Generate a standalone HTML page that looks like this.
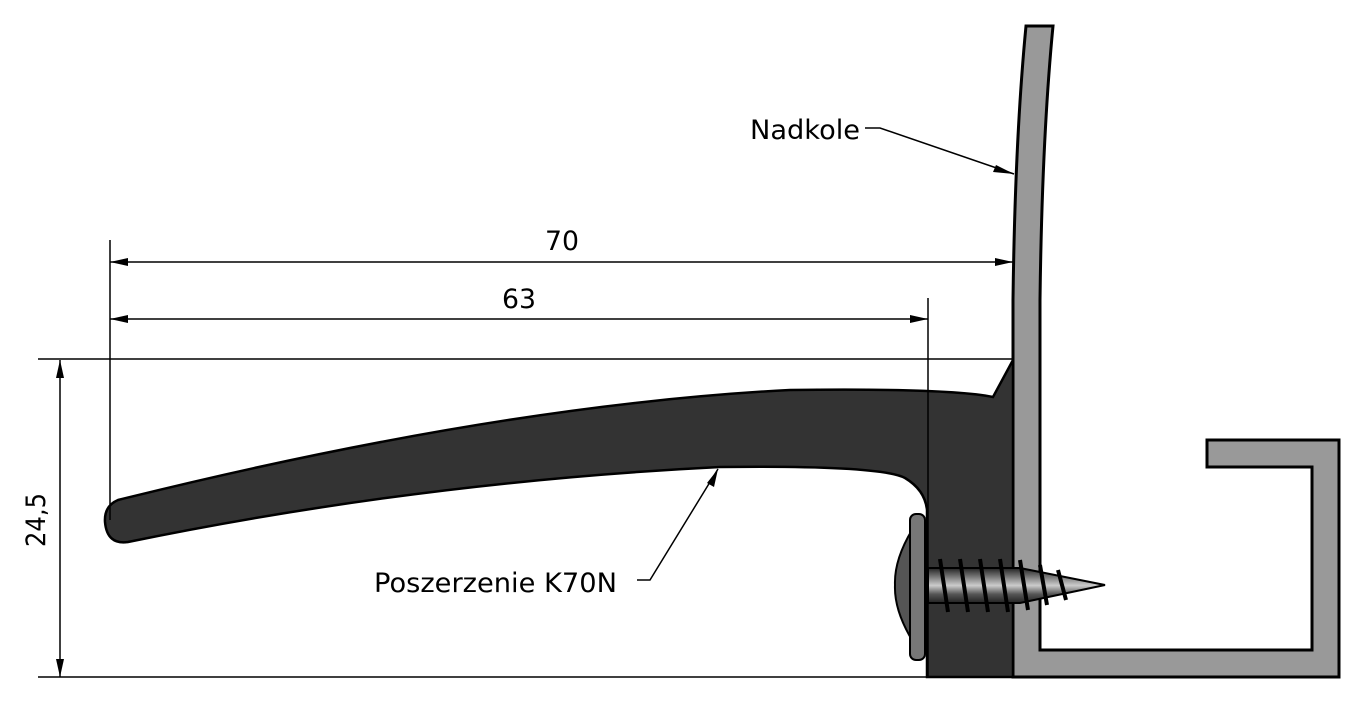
<!DOCTYPE html>
<html><head><meta charset="utf-8"><style>html,body{margin:0;padding:0;background:#fff}svg{display:block}</style></head>
<body>
<svg width="1369" height="711" viewBox="0 0 1369 711" xmlns="http://www.w3.org/2000/svg" font-family="DejaVu Sans, Liberation Sans, sans-serif">
<defs>
<linearGradient id="sc" x1="0" y1="0" x2="0" y2="1">
<stop offset="0" stop-color="#222"/><stop offset="0.3" stop-color="#888"/><stop offset="0.5" stop-color="#ccc"/><stop offset="0.75" stop-color="#555"/><stop offset="1" stop-color="#222"/>
</linearGradient>
</defs>
<path d="M1026,26 L1053,26 Q1042,140 1040,300 L1040,650 L1312,650 L1312,467 L1207,467 L1207,440 L1339,440 L1339,677 L1013,677 L1013,300 Q1015,140 1026,26 Z" fill="#999" stroke="#000" stroke-width="3" stroke-linejoin="miter"/>
<path d="M1013,360 L993,397 Q950,388 790,390 Q500,405 118,500 Q104,506 105,522 Q107,545 128,542 Q420,482 720,467 Q880,465 905,478 Q925,490 927,510 L927,677 L1013,677 Z" fill="#333" stroke="#000" stroke-width="2.5"/>
<path d="M912,530 Q894,560 895,585 Q894,610 912,640 Z" fill="#555" stroke="#000" stroke-width="2"/>
<rect x="910" y="514" width="15" height="146" rx="6" fill="#777" stroke="#000" stroke-width="2"/>
<path d="M928,568 L1020,568 L1105,585 L1020,603 L928,603 Z" fill="url(#sc)" stroke="#000" stroke-width="2"/>
<g stroke="#000" stroke-width="4">
<line x1="940" y1="559" x2="948" y2="612"/><line x1="960" y1="559" x2="968" y2="612"/><line x1="980" y1="559" x2="988" y2="612"/><line x1="1000" y1="559" x2="1008" y2="612"/><line x1="1020" y1="560" x2="1028" y2="610"/><line x1="1040" y1="565" x2="1047" y2="605"/><line x1="1058" y1="570" x2="1066" y2="600"/>
</g>
<g stroke="#000" stroke-width="1.5" fill="none">
<line x1="38" y1="359" x2="1013" y2="359"/>
<line x1="38" y1="677" x2="927" y2="677"/>
<line x1="110" y1="240" x2="110" y2="520"/>
<line x1="928" y1="298" x2="928" y2="677"/>
<line x1="60" y1="360" x2="60" y2="677"/>
<line x1="110" y1="262" x2="1013" y2="262"/>
<line x1="110" y1="319" x2="928" y2="319"/>
<polyline points="865,128 880,128 1014,174"/>
<polyline points="637,580 650,580 718,469"/>
</g>
<g fill="#000">
<polygon points="110,262 128,258 128,266"/>
<polygon points="1013,262 995,258 995,266"/>
<polygon points="110,319 128,315 128,323"/>
<polygon points="928,319 910,315 910,323"/>
<polygon points="60,360 56,378 64,378"/>
<polygon points="60,677 56,659 64,659"/>
<polygon points="1014,174 996,165 993,172"/>
<polygon points="718,469 707,483 714,487"/>
</g>
<g font-size="27" fill="#000">
<text x="545" y="250" textLength="34" lengthAdjust="spacingAndGlyphs">70</text>
<text x="502" y="308" textLength="34" lengthAdjust="spacingAndGlyphs">63</text>
<text x="750" y="139" textLength="110" lengthAdjust="spacingAndGlyphs">Nadkole</text>
<text x="374" y="592" textLength="243" lengthAdjust="spacingAndGlyphs">Poszerzenie K70N</text>
<text transform="translate(45,547) rotate(-90)" textLength="54" lengthAdjust="spacingAndGlyphs">24,5</text>
</g>
</svg>
</body></html>
